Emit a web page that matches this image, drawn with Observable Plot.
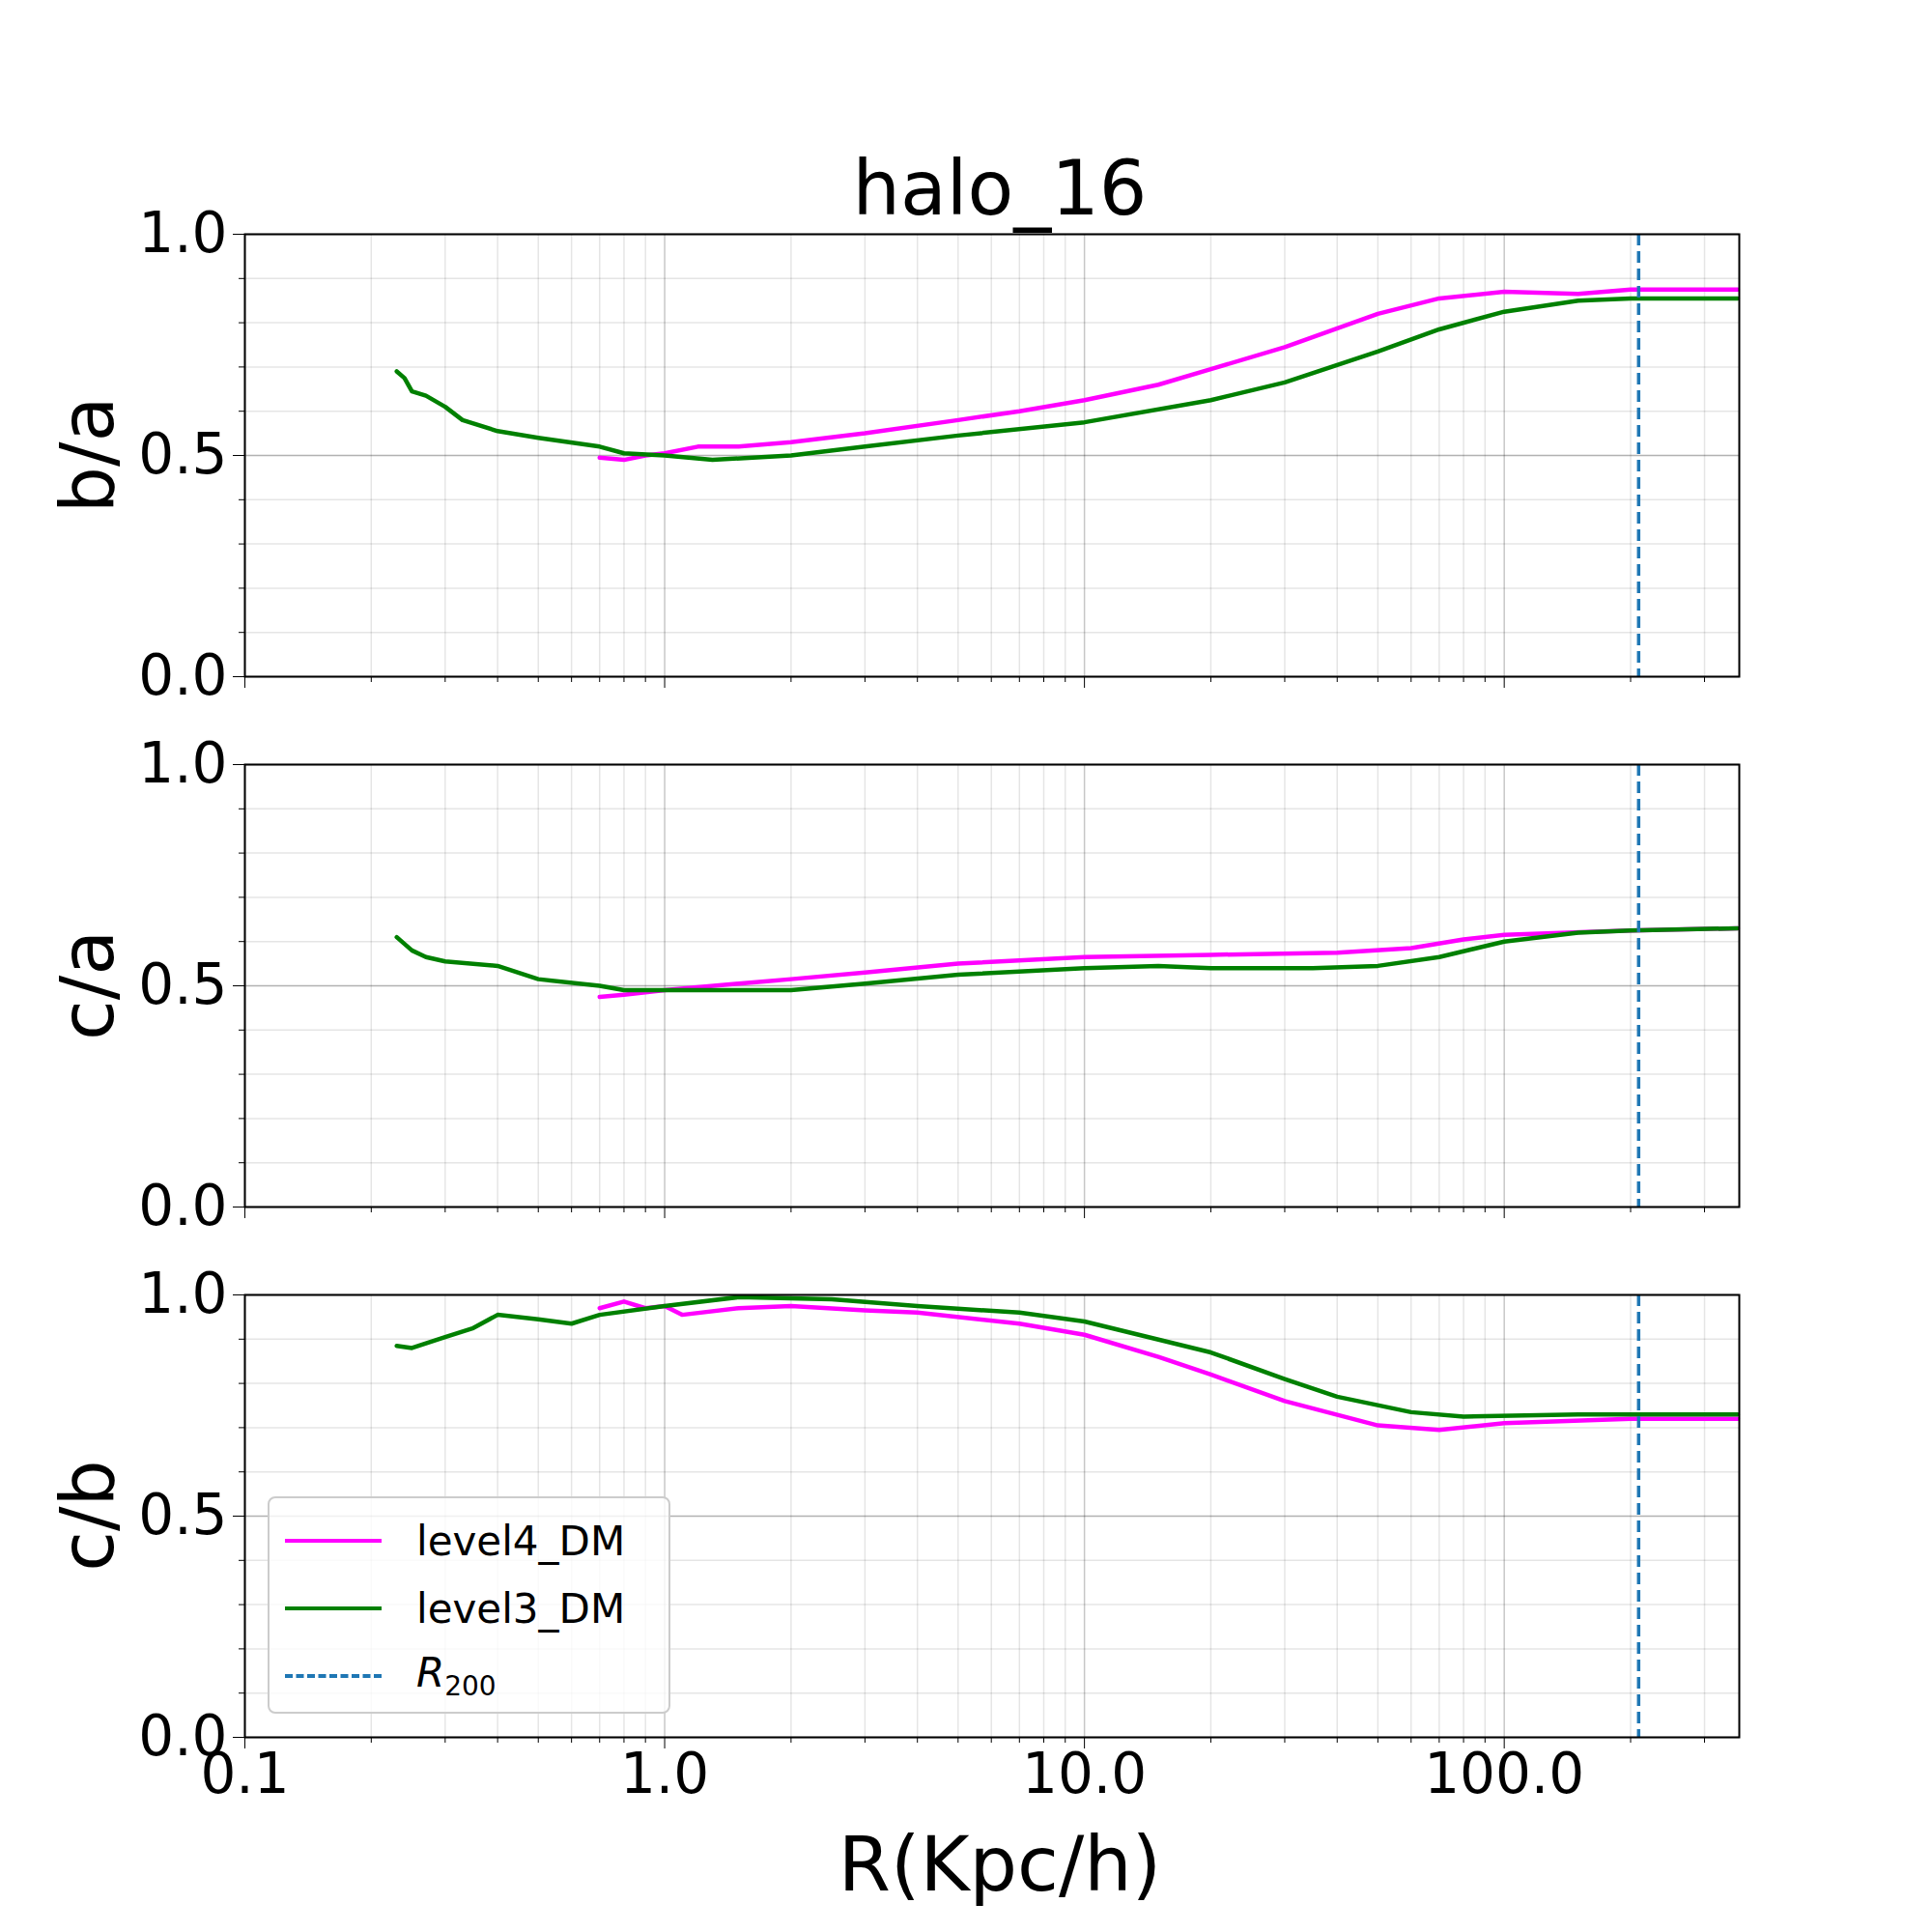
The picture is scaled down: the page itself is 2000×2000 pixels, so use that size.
<!DOCTYPE html>
<html>
<head>
<meta charset="utf-8">
<script src="https://cdn.jsdelivr.net/npm/d3@7"></script>
<script src="https://cdn.jsdelivr.net/npm/@observablehq/plot@0.6"></script>
<style>
  body { margin: 0; background: white; font-family: "DejaVu Sans", sans-serif; }
  #chart { position: relative; width: 2000px; height: 2000px; }
  #chart > svg { position: absolute; left: 0; }
  .lbl { position: absolute; color: black; }
</style>
</head>
<body>
<div id="chart"></div>
<script>
// radii (Kpc/h) and axis ratios
const baL3x = [0.23, 0.24, 0.25, 0.27, 0.3, 0.33, 0.4, 0.5, 0.7, 0.8, 1.0, 1.3, 2, 3, 5, 10, 20, 30, 50, 70, 100, 150, 200, 360]
const baL3y = [0.69, 0.675, 0.645, 0.635, 0.61, 0.58, 0.555, 0.54, 0.52, 0.505, 0.5, 0.49, 0.5, 0.52, 0.545, 0.575, 0.625, 0.665, 0.735, 0.785, 0.825, 0.85, 0.855, 0.855]
const baL4x = [0.7, 0.8, 0.9, 1.0, 1.2, 1.5, 2, 3, 5, 7, 10, 15, 20, 30, 50, 70, 100, 150, 200, 360]
const baL4y = [0.495, 0.49, 0.5, 0.505, 0.52, 0.52, 0.53, 0.55, 0.58, 0.6, 0.625, 0.66, 0.695, 0.745, 0.82, 0.855, 0.87, 0.865, 0.875, 0.875]

const caL3x = [0.23, 0.25, 0.27, 0.3, 0.4, 0.5, 0.7, 0.8, 1, 2, 3, 5, 10, 15, 20, 35, 50, 70, 100, 150, 200, 360]
const caL3y = [0.61, 0.58, 0.565, 0.555, 0.545, 0.515, 0.5, 0.49, 0.49, 0.49, 0.505, 0.525, 0.54, 0.545, 0.54, 0.54, 0.545, 0.565, 0.6, 0.62, 0.625, 0.63]
const caL4x = [0.7, 0.8, 1, 1.5, 2, 3, 5, 10, 20, 40, 60, 80, 100, 200, 360]
const caL4y = [0.475, 0.48, 0.49, 0.505, 0.515, 0.53, 0.55, 0.565, 0.57, 0.575, 0.585, 0.605, 0.615, 0.625, 0.63]

const cbL3x = [0.23, 0.25, 0.3, 0.35, 0.4, 0.5, 0.6, 0.7, 1, 1.5, 2.5, 4, 7, 10, 20, 30, 40, 60, 80, 150, 360]
const cbL3y = [0.885, 0.88, 0.905, 0.925, 0.955, 0.945, 0.935, 0.955, 0.975, 0.995, 0.99, 0.975, 0.96, 0.94, 0.87, 0.81, 0.77, 0.735, 0.725, 0.73, 0.73]
const cbL4x = [0.7, 0.8, 0.9, 1, 1.1, 1.5, 2, 3, 4, 7, 10, 15, 20, 30, 50, 70, 100, 200, 360]
const cbL4y = [0.97, 0.985, 0.97, 0.975, 0.955, 0.97, 0.975, 0.965, 0.96, 0.935, 0.91, 0.86, 0.82, 0.76, 0.705, 0.695, 0.71, 0.72, 0.72]

const r200 = 209
const xTicks = [0.1, 1, 10, 100]
const yTicks = [0, 0.5, 1]

const panels = [
  {label: 'b/a', l3: [baL3x, baL3y], l4: [baL4x, baL4y], top: 242},
  {label: 'c/a', l3: [caL3x, caL3y], l4: [caL4x, caL4y], top: 791},
  {label: 'c/b', l3: [cbL3x, cbL3y], l4: [cbL4x, cbL4y], top: 1340},
]

const toRows = ([xs, ys]) => xs.map((x, i) => ({x, y: ys[i]}))
const xMinor = d3.range(-1, 3).flatMap(e => d3.range(2, 10).map(k => k * 10 ** e)).filter(v => v < 363)
const yMinor = d3.range(0, 11).map(i => i / 10)

const chart = d3.select('#chart')

panels.forEach((p, i) => {
  const last = i === panels.length - 1
  const mt = 40
  const plot = Plot.plot({
    width: 2000,
    height: 458 + mt + (last ? 90 : 20),
    marginLeft: 253, marginRight: 200, marginTop: mt, marginBottom: last ? 90 : 20,
    style: {fontFamily: 'DejaVu Sans', fontSize: '58px', color: 'black', background: 'transparent', overflow: 'visible'},
    x: {type: 'log', domain: [0.1, 363]},
    y: {domain: [0, 1]},
    marks: [
      Plot.ruleX(xMinor, {stroke: '#000', strokeOpacity: 0.1, strokeWidth: 1.5}),
      Plot.ruleY(yMinor, {stroke: '#000', strokeOpacity: 0.1, strokeWidth: 1.5}),
      Plot.ruleX(xTicks, {stroke: '#000', strokeOpacity: 0.22, strokeWidth: 1.5}),
      Plot.ruleY(yTicks, {stroke: '#000', strokeOpacity: 0.22, strokeWidth: 1.5}),
      Plot.line(toRows(p.l4), {x: 'x', y: 'y', stroke: 'magenta', strokeWidth: 4.5}),
      Plot.line(toRows(p.l3), {x: 'x', y: 'y', stroke: 'green', strokeWidth: 4.5}),
      Plot.ruleX([r200], {stroke: '#1f77b4', strokeWidth: 3.5, strokeDasharray: '12,6'}),
      Plot.axisY(yTicks, {tickFormat: d3.format('.1f'), tickSize: 12, tickPadding: 6, label: null, fontSize: 58}),
      Plot.axisY(yMinor, {tickFormat: () => '', tickSize: 6, label: null}),
      Plot.axisX(xTicks, {tickFormat: last ? (d => d3.format('.1f')(d)) : () => '', tickSize: 12, tickPadding: 4, label: null, fontSize: 58}),
      Plot.axisX(xMinor, {tickFormat: () => '', tickSize: 6, label: null}),
      Plot.frame({stroke: 'black', strokeWidth: 2}),
    ],
  })
  chart.append(() => plot).style('top', (p.top - mt) + 'px')

  chart.append('div').attr('class', 'lbl')
    .style('left', '20px').style('top', (p.top + 229) + 'px')
    .style('font-size', '76px')
    .style('transform', 'translate(0,-50%) rotate(-90deg)')
    .style('transform-origin', '50% 50%')
    .style('width', '140px').style('text-align', 'center')
    .text(p.label)
})

chart.append('div').attr('class', 'lbl')
  .style('left', '0px').style('width', '2070px').style('text-align', 'center')
  .style('top', '150px').style('font-size', '78px').text('halo_16')

chart.append('div').attr('class', 'lbl')
  .style('left', '0px').style('width', '2070px').style('text-align', 'center')
  .style('top', '1885px').style('font-size', '78px').text('R(Kpc/h)')

// legend
const legend = chart.append('div').attr('class', 'lbl')
  .style('left', '277px').style('top', '1549px').style('width', '413px').style('height', '221px')
  .style('border', '2px solid #ccc').style('border-radius', '8px').style('background', 'rgba(255,255,255,0.8)')
  .style('font-size', '42px')
const items = [
  {name: 'level4_DM', color: 'magenta', dash: false},
  {name: 'level3_DM', color: 'green', dash: false},
  {name: 'R200', color: '#1f77b4', dash: true},
]
items.forEach((it, i) => {
  const row = legend.append('div').style('position', 'absolute').style('left', '16px').style('top', (14 + i * 70) + 'px')
    .style('display', 'flex').style('align-items', 'center').style('height', '60px')
  row.append('div').style('width', '100px').style('height', '0px')
    .style('border-top', `4px ${it.dash ? 'dashed' : 'solid'} ${it.color}`).style('margin-right', '36px')
  if (it.dash) row.append('span').html('<i>R</i><sub style="font-size:28px">200</sub>')
  else row.append('span').text(it.name)
})
</script>
</body>
</html>
